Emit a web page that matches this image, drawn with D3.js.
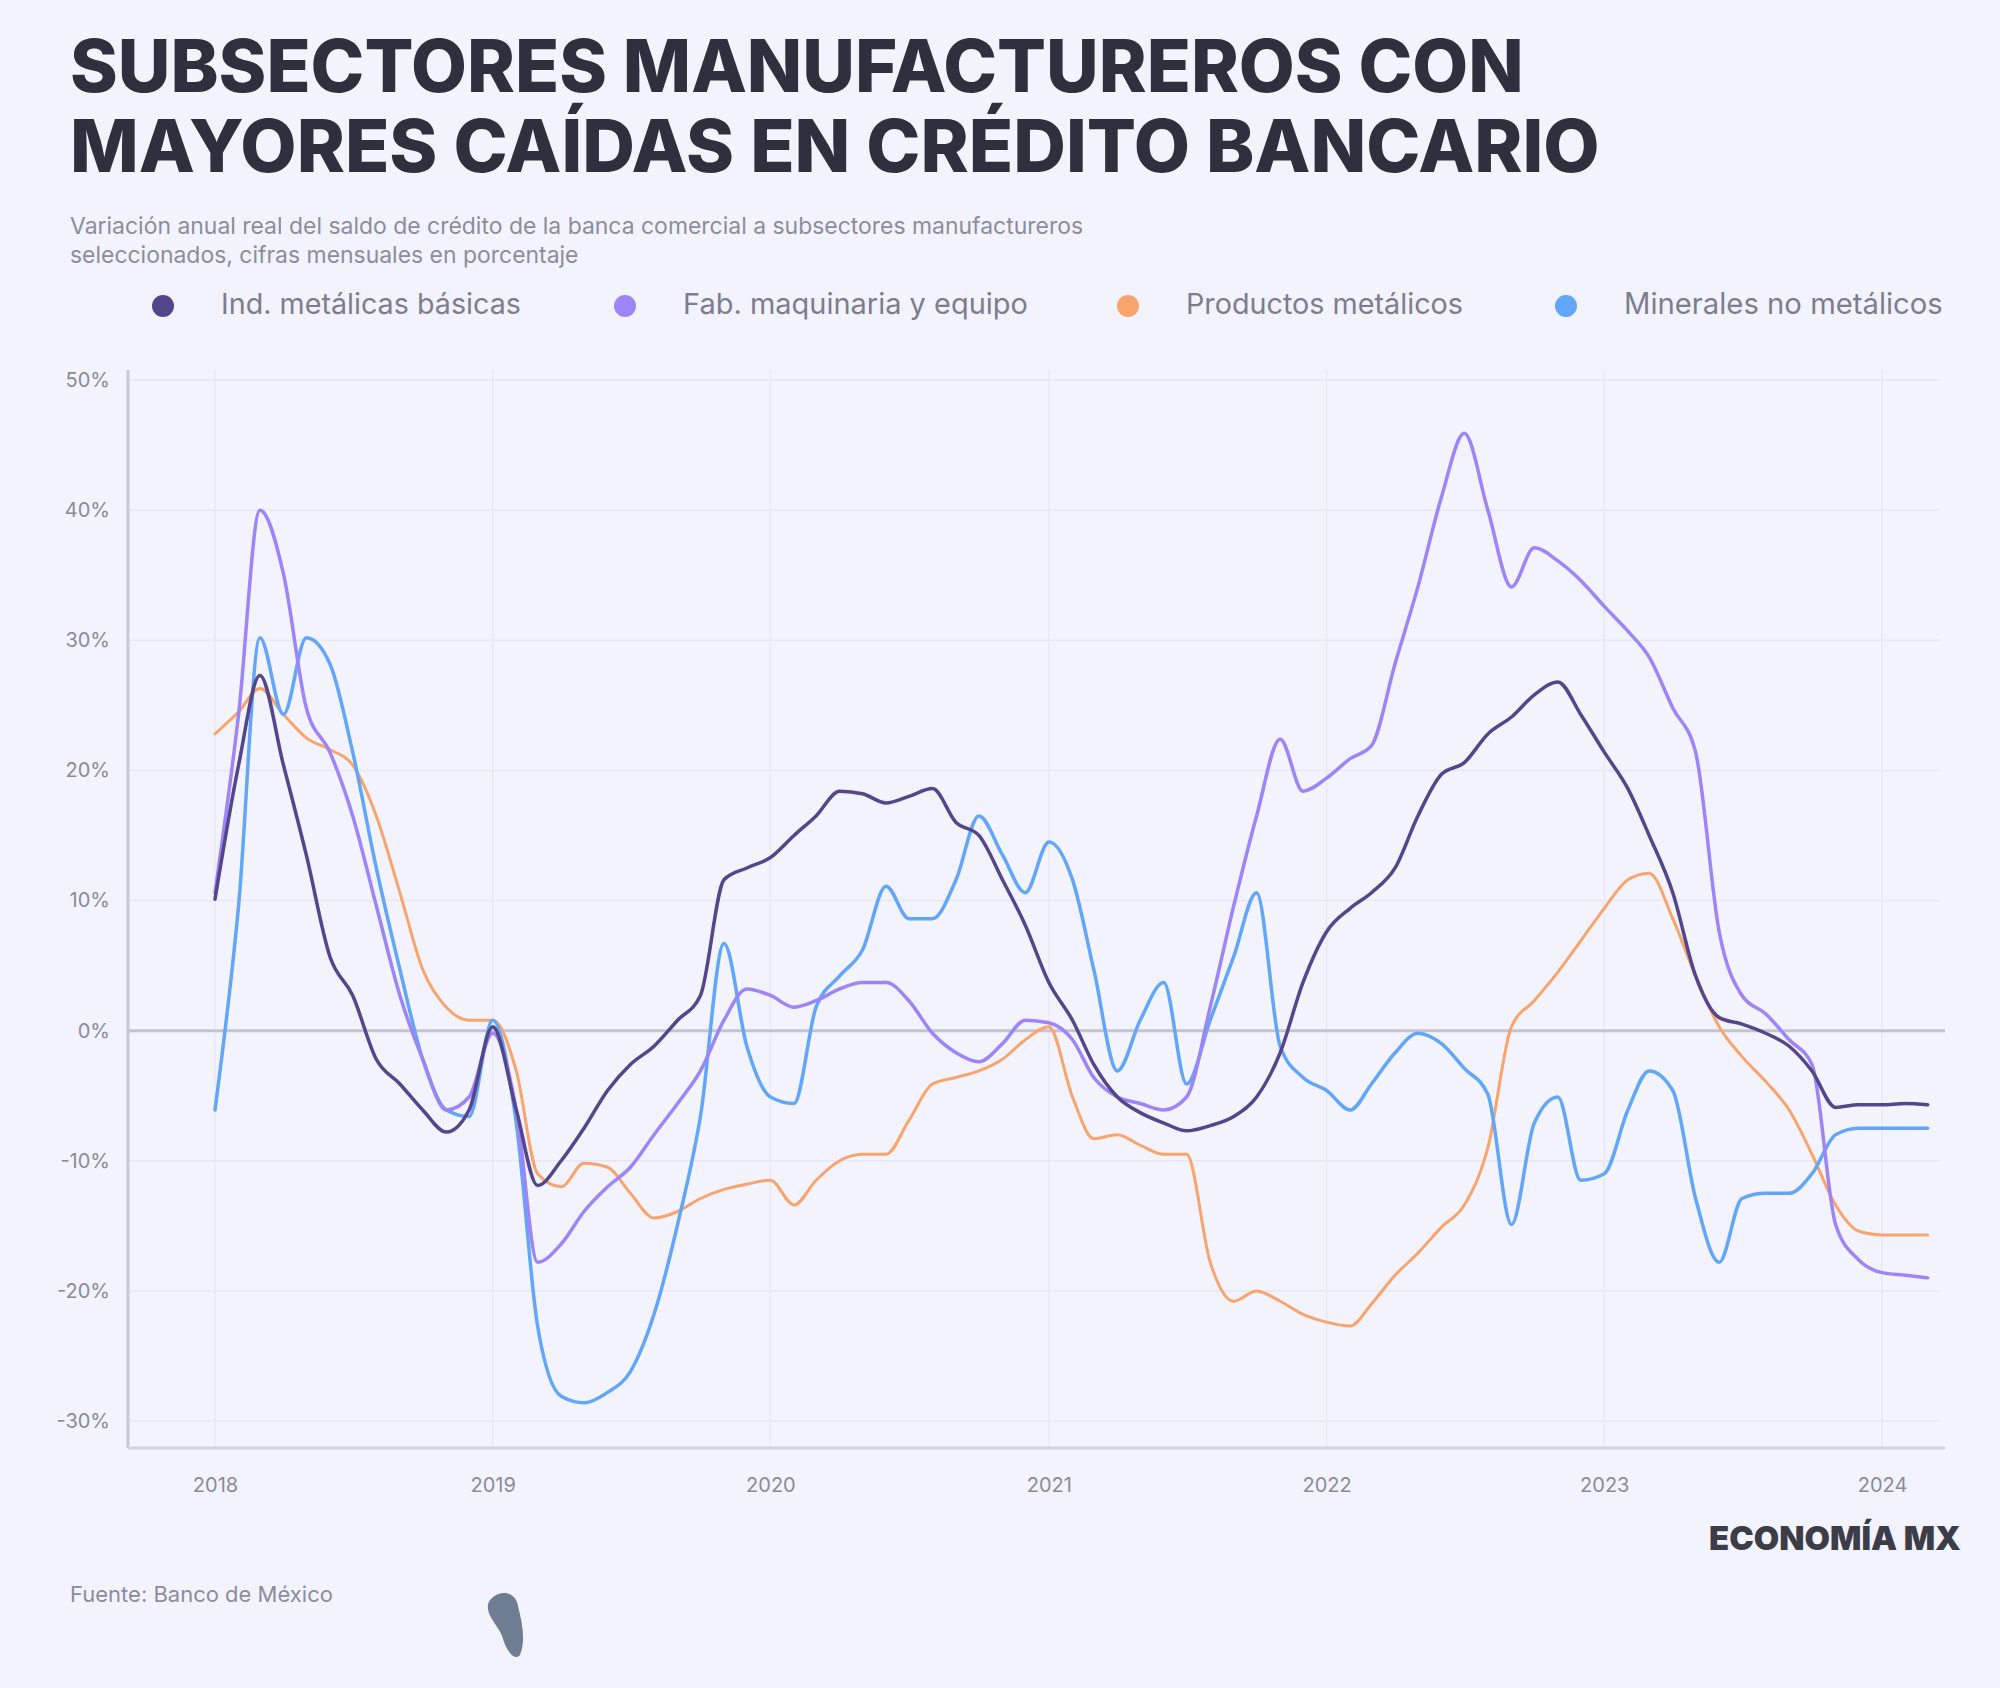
<!DOCTYPE html>
<html><head><meta charset="utf-8">
<script src="https://cdn.jsdelivr.net/npm/d3@7"></script>
<style>
html,body{margin:0;padding:0;background:#f3f3fe;}
svg{display:block;}
</style></head>
<body>
<svg id="chart" width="2000" height="1688"></svg>
<script>
// ---- DATA ----
const startYear = 2018;
const yearTicks = ["2018","2019","2020","2021","2022","2023","2024"];
const yTicks = [-30,-20,-10,0,10,20,30,40,50];
const seriesNames = ["Ind. metálicas básicas","Fab. maquinaria y equipo","Productos metálicos","Minerales no metálicos"];
const seriesColors = ["#54468a","#9d84f7","#f7a56c","#62a6f7"];

const s1 = [10.1,20.4,27.3,20.4,13.5,5.7,2.7,-2.2,-4.1,-6.1,-7.8,-6.1,0.3,-6.1,-11.9,-10,-7.5,-4.6,-2.6,-1.2,0.8,2.7,11.6,12.5,13.3,15,16.5,18.4,18.2,17.5,18,18.6,16,15,11.6,8.1,3.7,0.8,-2.6,-5.1,-6.3,-7.1,-7.7,-7.3,-6.6,-5.1,-1.7,3.7,7.6,9.4,10.6,12.5,16.5,19.7,20.6,22.8,24.1,25.8,26.8,24.3,21.4,18.6,15,10.6,4.2,1,0.5,-0.2,-1.2,-3.1,-5.9,-5.7,-5.7,-5.6,-5.7];
const s2 = [10.6,24.3,40,35.1,24.8,21.4,16.5,9.6,2.7,-2.2,-6.1,-5.1,-0.2,-6.1,-17.8,-16.4,-13.9,-12,-10.5,-8,-5.6,-3.1,0.8,3.2,2.7,1.8,2.3,3.2,3.7,3.7,2.3,-0.2,-1.7,-2.4,-1,0.8,0.6,-0.7,-3.6,-5.1,-5.6,-6.1,-5.1,1.8,9.6,16.5,22.4,18.4,19.4,20.9,21.9,28.2,34.1,41,45.9,40,34.1,37.1,36.1,34.6,32.6,30.7,28.7,24.8,21.4,7.6,2.7,1.3,-0.7,-2.6,-14.9,-17.6,-18.6,-18.8,-19];
const s3 = [22.8,24.5,26.3,24.3,22.5,21.6,20.4,16.5,10.6,4.7,1.8,0.8,0.8,-3.1,-11,-12,-10.2,-10.5,-12.5,-14.4,-13.9,-12.9,-12.2,-11.8,-11.5,-13.4,-11.5,-10,-9.5,-9.5,-6.9,-4.1,-3.6,-3.1,-2.2,-0.7,0.3,-5.1,-8.3,-8,-8.8,-9.5,-9.5,-17.8,-20.8,-20,-20.8,-21.8,-22.4,-22.7,-21,-18.8,-17.1,-15.1,-13.4,-9,0.3,2.3,4.5,6.9,9.4,11.6,12.1,8.6,4.2,0.3,-2,-3.9,-6.1,-9.5,-13.4,-15.4,-15.7,-15.7,-15.7];
const s4 = [-6.1,9.6,30.2,24.3,30.2,28.2,21.4,12.5,4.7,-2.2,-6.1,-6.6,0.8,-7.1,-22.7,-28.1,-28.6,-27.8,-26.2,-21.8,-14.9,-6.6,6.7,-1.2,-5.1,-5.6,1.8,4.2,6.2,11.1,8.6,8.6,11.6,16.5,13.5,10.6,14.5,11.6,4.7,-3.1,0.8,3.7,-4.1,0.8,5.7,10.6,-1.2,-3.6,-4.6,-6.1,-4.1,-1.7,-0.2,-1,-2.9,-4.9,-14.9,-7.1,-5.1,-11.5,-11,-6.1,-3.1,-4.6,-12.9,-17.8,-12.9,-12.5,-12.5,-11,-8,-7.5,-7.5,-7.5,-7.5];

const titleLines = ["SUBSECTORES MANUFACTUREROS CON","MAYORES CAÍDAS EN CRÉDITO BANCARIO"];
const subtitleLines = ["Variación anual real del saldo de crédito de la banca comercial a subsectores manufactureros","seleccionados, cifras mensuales en porcentaje"];
const sourceText = "Fuente: Banco de México";
const logoText = "ECONOMÍA MX";

// ---- CHART ----
const svg = d3.select("#chart");
const font = "Inter, 'Noto Sans', sans-serif";
svg.append("rect").attr("width",2000).attr("height",1688).attr("fill","#f3f3fe");

function fitText(sel, target){
  const w = sel.node().getComputedTextLength();
  const fs = parseFloat(sel.attr("font-size"));
  sel.attr("font-size", fs*target/w);
}
const tWidths = [1454, 1530];
titleLines.forEach((t,i)=>{
  const el = svg.append("text").attr("x",70).attr("y",92+i*80)
    .attr("font-family",font).attr("font-weight",800).attr("font-size",72)
    .attr("fill","#2f2f3d").text(t);
  fitText(el, tWidths[i]);
});
const sub0 = svg.append("text").attr("x",70).attr("y",234)
  .attr("font-family",font).attr("font-size",22).attr("fill","#8c8c9c").text(subtitleLines[0]);
fitText(sub0, 1014);
const subFs = sub0.attr("font-size");
svg.append("text").attr("x",70).attr("y",263)
  .attr("font-family",font).attr("font-size",subFs).attr("fill","#8c8c9c").text(subtitleLines[1]);

// legend
const legendX = [163, 625, 1128, 1566];
const legendW = [300, 345, 277, 319];
seriesNames.forEach((n,i)=>{
  svg.append("circle").attr("cx",legendX[i]).attr("cy",306).attr("r",11).attr("fill",seriesColors[i]);
  const el = svg.append("text").attr("x",legendX[i]+58).attr("y",314)
    .attr("font-family",font).attr("font-size",24).attr("fill","#7d7d8e").text(n);
  fitText(el, legendW[i]);
});

const x = d3.scaleTime().domain([new Date(startYear,0,1), new Date(startYear+6,0,1)]).range([215,1882]);
const y = d3.scaleLinear().domain([-30,50]).range([1421,380]);

// grid
const g = svg.append("g");
g.selectAll(".hg").data(yTicks).join("line")
  .attr("x1",128).attr("x2",1940).attr("y1",d=>y(d)).attr("y2",d=>y(d))
  .attr("stroke","#e7e7f5").attr("stroke-width",1.5);
g.selectAll(".vg").data(yearTicks).join("line")
  .attr("x1",d=>x(new Date(+d,0,1))).attr("x2",d=>x(new Date(+d,0,1)))
  .attr("y1",370).attr("y2",1448)
  .attr("stroke","#e9e9f6").attr("stroke-width",1.5);

// y axis
const yAxis = d3.axisLeft(y).tickValues(yTicks).tickFormat(d=>d+"%").tickSize(0).tickPadding(18);
const ya = svg.append("g").attr("transform","translate(128,0)").call(yAxis);
ya.select(".domain").remove();
ya.selectAll("text").attr("font-family",font).attr("font-size",20).attr("fill","#8a8a99");
svg.append("line").attr("x1",128).attr("x2",128).attr("y1",370).attr("y2",1448).attr("stroke","#c9c9d6").attr("stroke-width",3);

// x axis
const xAxis = d3.axisBottom(x).tickValues(yearTicks.map(d=>new Date(+d,0,1))).tickFormat(d3.timeFormat("%Y")).tickSize(0).tickPadding(30);
const xa = svg.append("g").attr("transform","translate(0,1448)").call(xAxis);
xa.select(".domain").remove();
xa.selectAll("text").attr("font-family",font).attr("font-size",20).attr("fill","#8a8a99");
svg.append("line").attr("x1",128).attr("x2",1945).attr("y1",1448).attr("y2",1448).attr("stroke","#d3d3e0").attr("stroke-width",3);

// zero line
svg.append("line").attr("x1",128).attr("x2",1945).attr("y1",y(0)).attr("y2",y(0)).attr("stroke","#c4c4d0").attr("stroke-width",3);

// lines
const allSeries = [s1,s2,s3,s4];
const line = d3.line().x((d,i)=>x(new Date(startYear,i,1))).y(d=>y(d)).curve(d3.curveMonotoneX);
const drawOrder = [2,3,1,0];
drawOrder.forEach(k=>{
  svg.append("path").datum(allSeries[k]).attr("d",line)
    .attr("fill","none").attr("stroke",seriesColors[k]).attr("stroke-width",k===2?3:3.5)
    .attr("stroke-linejoin","round").attr("stroke-linecap","round");
});

// source
svg.append("text").attr("x",70).attr("y",1602).attr("font-family",font).attr("font-size",22).attr("fill","#8c8c9c").text(sourceText);
svg.append("path").attr("d","M490,1600 C500,1588 516,1592 518,1606 C522,1622 526,1640 520,1655 C514,1662 506,1650 502,1636 C498,1625 482,1612 490,1600 Z").attr("fill","#6f7d92");

// logo
const logo = svg.append("text").attr("x",1709).attr("y",1550).attr("font-family",font).attr("font-weight",900).attr("font-size",40).attr("fill","#3d3d48").text(logoText);
fitText(logo, 252);
</script>
</body></html>
